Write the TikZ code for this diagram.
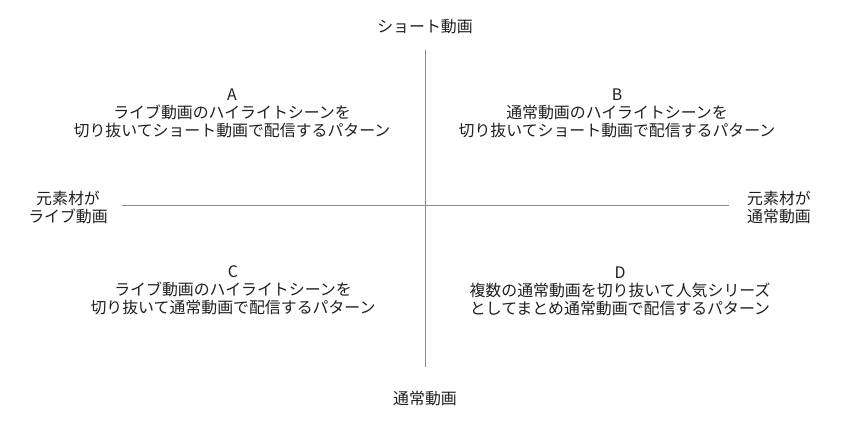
\documentclass[tikz,border=0pt]{standalone}
\usepackage{fontspec}
\setmainfont{Noto Sans CJK JP}
\begin{document}
\begin{tikzpicture}[x=1pt,y=1pt,
  lbl/.style={align=center,font=\fontsize{15.9}{18}\selectfont,text=black!88,inner sep=0pt},
  axis/.style={draw=black!45,line width=0.9pt}]
\useasboundingbox (0,0) rectangle (856,428);
\coordinate (vtop) at (425.5,378);
\coordinate (vbot) at (425.5,61);
\coordinate (hl) at (122,222.5);
\coordinate (hr) at (729,222.5);
\draw[axis] (vtop) -- (vbot);
\draw[axis] (hl) -- (hr);
\node[lbl] (top) at (425,401) {ショート動画};
\node[lbl] (bottom) at (425,30) {通常動画};
\node[lbl] (left) at (68,221) {元素材が\\ライブ動画};
\node[lbl] (right) at (779,221) {元素材が\\通常動画};
\node[lbl] (A) at (232,315) {A\\ライブ動画のハイライトシーンを\\切り抜いてショート動画で配信するパターン};
\node[lbl] (B) at (617,315) {B\\通常動画のハイライトシーンを\\切り抜いてショート動画で配信するパターン};
\node[lbl] (C) at (233,138) {C\\ライブ動画のハイライトシーンを\\切り抜いて通常動画で配信するパターン};
\node[lbl] (D) at (620,137) {D\\複数の通常動画を切り抜いて人気シリーズ\\としてまとめ通常動画で配信するパターン};
\end{tikzpicture}
\end{document}
